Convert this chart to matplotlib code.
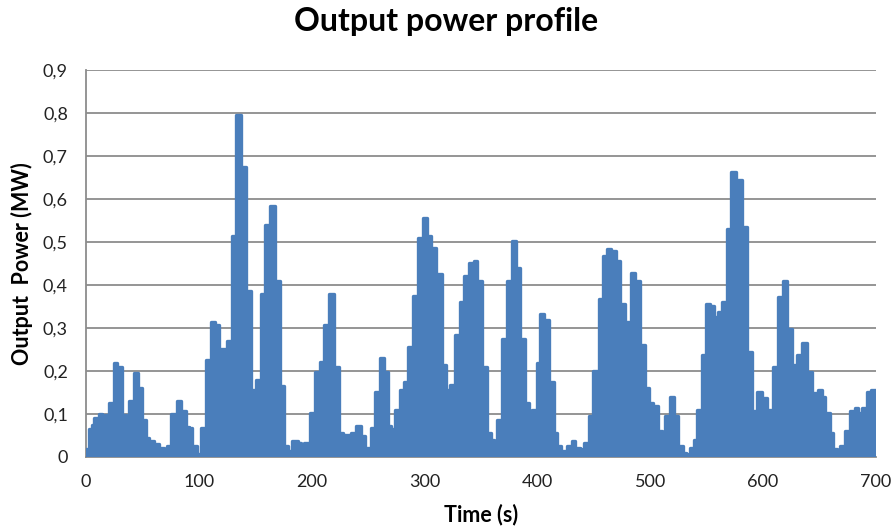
import matplotlib
matplotlib.use("Agg")
import matplotlib.pyplot as plt
from matplotlib.ticker import FuncFormatter, MultipleLocator

plt.rcParams['font.family'] = ['Lato', 'DejaVu Sans']

# Output power (MW) held from each step start time (s) until the next one
step_start_s = [
    0, 2.7, 5, 7, 11.5, 14.5, 20.4, 24.8, 27.8, 32.2, 35.2, 38.1, 42.5, 46.1,
    49.9, 52.9, 55.8, 60.3, 64.7, 69.1, 72.1, 75.6, 81, 84.5, 88.3, 91.3, 94.2,
    98.7, 102.2, 106, 110.5, 114, 118, 124.6, 129, 133.3, 137.2, 141.6, 145.8,
    150.3, 155, 159, 163, 167.5, 171.9, 175.7, 178.7, 182.8, 188, 190.8, 193.1,
    198.2, 202.9, 207.6, 211.2, 215.6, 219.7, 223.8, 227.6, 235, 239.4, 243.4,
    247.5, 252.3, 256.4, 260.3, 263.8, 267.8, 270.7, 273.8, 278.3, 281.8,
    285.6, 290.1, 294.2, 298.3, 302.1, 306.0, 310.2, 315.5, 319.1, 322.9,
    327.0, 331.2, 335.0, 339.4, 343.9, 346.5, 351, 355.7, 359.3, 361.7, 363.9,
    368.3, 372.7, 377.2, 380.7, 384.6, 389, 392.5, 395.5, 399.3, 402.6, 405.8,
    410.2, 414.6, 417.6, 420.6, 426.4, 430.8, 433.3, 437.7, 441.6, 446, 449.6,
    454.2, 458, 461.5, 465.2, 470, 473.5, 477.6, 482.6, 486.2, 490.9, 495.3,
    498.9, 502.7, 507.1, 510, 513.1, 517.5, 521, 524.6, 529, 531.6, 535, 538.8,
    541.8, 545.9, 549.7, 553.3, 556.8, 559.7, 563.3, 568.0, 571.5, 576.0,
    581.5, 586, 589.8, 595, 599.4, 603.8, 609, 613.4, 617.4, 621.6, 625.7,
    630.1, 634.1, 638.9, 643.6, 648.9, 652.3, 654.8, 659.2, 662.2, 665.2,
    668.1, 672.5, 677, 681.4, 684.4, 687.3, 691.8, 695.6, 700,
]
power_mw = [
    0.018, 0.064, 0.075, 0.09, 0.10, 0.098, 0.125, 0.218, 0.21, 0.098, 0.087,
    0.13, 0.195, 0.16, 0.087, 0.045, 0.037, 0.03, 0.02, 0.01, 0.025, 0.10,
    0.13, 0.106, 0.07, 0.068, 0.025, 0.006, 0.068, 0.225, 0.314, 0.306, 0.252,
    0.27, 0.514, 0.795, 0.675, 0.387, 0.156, 0.18, 0.38, 0.54, 0.583, 0.41,
    0.164, 0.025, 0.014, 0.037, 0.033, 0.006, 0.033, 0.102, 0.198, 0.22,
    0.306, 0.38, 0.21, 0.056, 0.052, 0.056, 0.072, 0.048, 0.022, 0.068, 0.152,
    0.23, 0.198, 0.072, 0.064, 0.11, 0.156, 0.175, 0.256, 0.375, 0.51, 0.556,
    0.514, 0.487, 0.425, 0.214, 0.156, 0.168, 0.283, 0.36, 0.42, 0.452, 0.456,
    0.41, 0.21, 0.056, 0.04, 0.01, 0.087, 0.275, 0.41, 0.502, 0.44, 0.275,
    0.125, 0.075, 0.11, 0.218, 0.333, 0.318, 0.175, 0.056, 0.025, 0.014,
    0.025, 0.037, 0.022, 0.018, 0.033, 0.095, 0.2, 0.368, 0.468, 0.483, 0.479,
    0.456, 0.356, 0.314, 0.429, 0.41, 0.26, 0.16, 0.125, 0.118, 0.06, 0.052,
    0.095, 0.14, 0.095, 0.025, 0.01, 0.006, 0.022, 0.04, 0.11, 0.237, 0.356,
    0.352, 0.325, 0.337, 0.36, 0.53, 0.664, 0.645, 0.535, 0.245, 0.106, 0.152,
    0.137, 0.11, 0.21, 0.372, 0.41, 0.298, 0.214, 0.237, 0.264, 0.198, 0.148,
    0.156, 0.14, 0.102, 0.056, 0.018, 0.014, 0.025, 0.06, 0.106, 0.114, 0.102,
    0.114, 0.152, 0.156, 0.156,
]

x_ticks = [0, 100, 200, 300, 400, 500, 600, 700]
title = "Output power profile"
x_label = "Time (s)"
y_label = "Output  Power (MW)"

fill_color = "#4a7ebb"
grid_color = "#8c8c8c"

fig = plt.figure(figsize=(8.92, 5.31), dpi=100)
ax = fig.add_axes([0.0964, 0.1394, 0.8856, 0.7286])

ax.fill_between(step_start_s, power_mw, 0, step="post",
                color=fill_color, linewidth=0, zorder=3)
ax.step(step_start_s, power_mw, where="post", color=fill_color,
        linewidth=2.4, solid_joinstyle="round", solid_capstyle="round",
        zorder=3)

ax.set_xlim(0, 700)
ax.set_ylim(0, 0.9)
ax.set_xticks(x_ticks)
ax.yaxis.set_major_locator(MultipleLocator(0.1))
ax.yaxis.set_major_formatter(
    FuncFormatter(lambda v, _: "0" if abs(v) < 1e-9 else f"{v:.1f}".replace(".", ",")))

ax.grid(axis="y", color=grid_color, linewidth=1.3, zorder=0)
ax.set_axisbelow(True)
for side in ("top", "right"):
    ax.spines[side].set_visible(False)
for side in ("left", "bottom"):
    ax.spines[side].set_color(grid_color)
    ax.spines[side].set_linewidth(1.3)

ax.tick_params(axis="both", length=0, labelsize=13, colors="#222222")
ax.tick_params(axis="x", pad=12)
ax.tick_params(axis="y", pad=13)

fig.text(0.5, 1 - 22 / 531, title, fontsize=23, fontweight="bold",
         ha="center", va="center")
ax.set_xlabel(x_label, fontsize=15.5, fontweight="bold", labelpad=10)
ax.set_ylabel(y_label, fontsize=15.5, fontweight="bold", labelpad=7)

fig.savefig("out.png", dpi=100)
